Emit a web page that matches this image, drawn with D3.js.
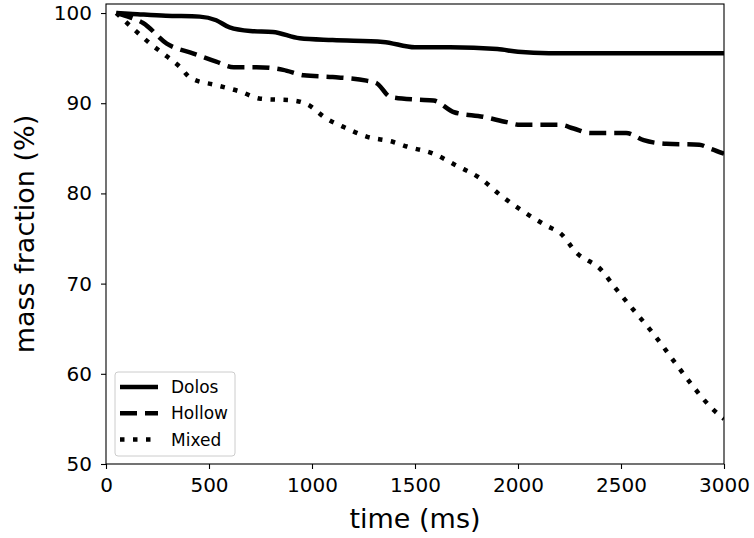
<!DOCTYPE html>
<html lang="en"><head><meta charset="utf-8">
<title>mass fraction</title>
<script src="https://cdn.jsdelivr.net/npm/d3@7/dist/d3.min.js"></script>
<style>
  body { margin: 0; background: #fff; }
  text { font-family: "DejaVu Sans", sans-serif; fill: #000; }
</style>
</head>
<body>
<script>
// values
var seriesNames = ["Dolos", "Hollow", "Mixed"];

var dolosTime = [50, 130, 290, 455, 535, 600, 700, 810, 940, 1100, 1345, 1500, 1670, 1900, 2000, 2150, 3000];
var dolosMass = [100.0, 99.9, 99.7, 99.6, 99.2, 98.4, 98.0, 97.9, 97.2, 97.0, 96.8, 96.2, 96.2, 96.0, 95.7, 95.55, 95.55];

var hollowTime = [50, 120, 180, 295, 425, 535, 620, 730, 860, 960, 1100, 1265, 1315, 1380, 1510, 1590, 1690, 1830, 1945, 2010, 2205, 2270, 2350, 2525, 2610, 2720, 2880, 2930, 3000];
var hollowMass = [100, 99.5, 98.9, 96.6, 95.5, 94.6, 94.0, 94.0, 93.7, 93.1, 92.9, 92.5, 92.2, 90.7, 90.4, 90.3, 89.0, 88.5, 87.9, 87.6, 87.6, 87.2, 86.7, 86.7, 85.9, 85.5, 85.4, 85.0, 84.4];

var mixedTime = [50, 140, 215, 295, 360, 410, 535, 650, 750, 910, 975, 1070, 1150, 1265, 1395, 1460, 1590, 1700, 1815, 1915, 2025, 2140, 2205, 2285, 2400, 2480, 2560, 2655, 2770, 2850, 2940, 3000];
var mixedMass = [100, 98.1, 96.6, 95.2, 94.0, 92.8, 92.0, 91.3, 90.5, 90.3, 89.9, 88.3, 87.4, 86.3, 85.7, 85.2, 84.4, 83.1, 81.7, 79.8, 78.0, 76.4, 75.6, 73.4, 71.6, 69.3, 67.1, 64.5, 61.0, 58.6, 56.2, 55.0];

var xTicks = [0, 500, 1000, 1500, 2000, 2500, 3000];
var yTicks = [50, 60, 70, 80, 90, 100];

var width = 754, height = 538;
var margin = {left: 106, right: 30, top: 4, bottom: 74};
var plotW = width - margin.left - margin.right;
var plotH = height - margin.top - margin.bottom;

var dashes = ["none", "17,8", "4.5,8.5"];

var x = d3.scaleLinear().domain([0, 3000]).range([0, plotW]);
var y = d3.scaleLinear().domain([50, 101]).range([plotH, 0]);

var svg = d3.select("body").append("svg")
  .attr("width", width)
  .attr("height", height);

var g = svg.append("g")
  .attr("transform", "translate(" + margin.left + "," + margin.top + ")");

g.append("clipPath").attr("id", "clip")
  .append("rect").attr("width", plotW).attr("height", plotH);

var series = [
  {name: seriesNames[0], t: dolosTime, v: dolosMass},
  {name: seriesNames[1], t: hollowTime, v: hollowMass},
  {name: seriesNames[2], t: mixedTime, v: mixedMass}
];

var line = d3.line()
  .x(function (d) { return x(d[0]); })
  .y(function (d) { return y(d[1]); })
  .curve(d3.curveMonotoneX);

g.append("g").attr("clip-path", "url(#clip)")
  .selectAll("path")
  .data(series).enter().append("path")
  .attr("fill", "none")
  .attr("stroke", "#000")
  .attr("stroke-width", 4.5)
  .attr("stroke-dasharray", function (d, i) { return dashes[i]; })
  .attr("d", function (d) {
    return line(d.t.map(function (t, i) { return [t, d.v[i]]; }));
  });

// axes
var xAxis = g.append("g")
  .attr("transform", "translate(0," + plotH + ")")
  .call(d3.axisBottom(x).tickValues(xTicks).tickSize(5).tickPadding(9).tickFormat(d3.format("d")));
var yAxis = g.append("g")
  .call(d3.axisLeft(y).tickValues(yTicks).tickSize(5).tickPadding(9).tickFormat(d3.format("d")));

[xAxis, yAxis].forEach(function (a) {
  a.select(".domain").remove();
  a.selectAll("line").attr("stroke", "#000").attr("stroke-width", 1.1);
  a.selectAll("text").attr("font-size", 20).attr("font-family", "DejaVu Sans").attr("fill", "#222");
});

// frame
g.append("rect")
  .attr("width", plotW).attr("height", plotH)
  .attr("fill", "none")
  .attr("stroke", "#000")
  .attr("stroke-width", 1.1);

svg.append("text")
  .attr("text-anchor", "middle")
  .attr("x", margin.left + plotW / 2)
  .attr("y", 528)
  .attr("font-size", 27)
  .attr("fill", "#222")
  .text("time (ms)");

svg.append("text")
  .attr("text-anchor", "middle")
  .attr("transform", "translate(33.5," + (margin.top + plotH / 2) + ") rotate(-90)")
  .attr("font-size", 27)
  .attr("fill", "#222")
  .text("mass fraction (%)");

// legend
var legend = g.append("g").attr("transform", "translate(9," + (plotH - 92) + ")");
legend.append("rect")
  .attr("width", 120).attr("height", 84)
  .attr("rx", 3)
  .attr("fill", "#fff").attr("fill-opacity", 0.8)
  .attr("stroke", "#ccc").attr("stroke-width", 1);

var item = legend.selectAll(".item")
  .data(series).enter().append("g")
  .attr("class", "item")
  .attr("transform", function (d, i) { return "translate(0," + (15 + i * 26.3) + ")"; });
item.append("line")
  .attr("x1", 5).attr("x2", 43)
  .attr("stroke", "#000").attr("stroke-width", 4.5)
  .attr("stroke-dasharray", function (d, i) { return dashes[i]; });
item.append("text")
  .attr("x", 56)
  .attr("dy", "0.35em")
  .attr("font-size", 17)
  .attr("fill", "#222")
  .text(function (d) { return d.name; });
</script>
</body></html>
